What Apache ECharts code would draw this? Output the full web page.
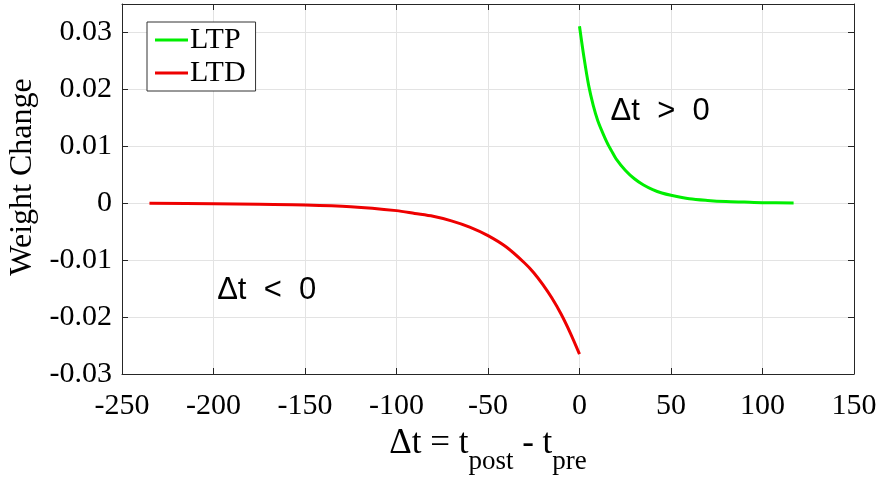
<!DOCTYPE html>
<html>
<head>
<meta charset="utf-8">
<script src="https://cdn.jsdelivr.net/npm/echarts@6/dist/echarts.min.js"></script>
<style>
 html,body{margin:0;padding:0;background:#fff;}
 #main{width:883px;height:478px;}
</style>
</head>
<body>
<div id="main"></div>
<script>
// LTP branch (dt > 0)
var ltpT = [0, 2.5, 5, 7.5, 10, 12.5, 15, 17.5, 20, 25, 30, 35, 40, 45, 50, 60, 70, 80, 90, 100, 117];
var ltpW = [0.0311, 0.0255, 0.0207, 0.0172, 0.0145, 0.0125, 0.0107, 0.0092, 0.0078, 0.0058, 0.0043, 0.0032, 0.0024, 0.0018, 0.0014, 0.0008, 0.0005, 0.0003, 0.0002, 0.0001, 0.00005];
// LTD branch (dt < 0)
var ltdT = [-235, -200, -175, -150, -125, -100, -90, -80, -70, -60, -50, -40, -30, -25, -20, -15, -10, -5, 0];
var ltdW = [0, -0.0001, -0.0002, -0.0003, -0.0006, -0.0013, -0.0018, -0.0023, -0.0031, -0.0042, -0.0057, -0.0077, -0.0105, -0.0122, -0.0143, -0.0167, -0.0195, -0.0228, -0.0265];

var xTicks = [-250, 150, 50];   // min, max, step
var yTicks = [-0.03, 0.035, 0.01];

// text notes, in data coords
var notePos = [[17, 0.0162], [-198, -0.0153]];
var noteText = ['\u0394t  >  0', '\u0394t  <  0'];

function pairs(xs, ys) {
    var out = [];
    for (var i = 0; i < xs.length; i++) out.push([xs[i], ys[i]]);
    return out;
}

var chart = echarts.init(document.getElementById('main'));
var serif = '"Liberation Serif", "Times New Roman", serif';
var sans = '"Liberation Sans", Arial, sans-serif';
var axisCol = '#262626';

function noteLabel() {
    return { show: true, position: 'right', distance: 0, fontFamily: sans, fontSize: 31, color: '#000',
             formatter: function (p) { return p.name; } };
}

var option = {
    animation: false,
    backgroundColor: '#fff',
    grid: { left: 122, right: 29, top: 4, bottom: 104, outerBoundsMode: 'none', containLabel: false },
    legend: {
        orient: 'vertical',
        left: 147,
        top: 22,
        padding: [3, 10, 3, 8],
        itemGap: 3,
        itemWidth: 33,
        itemHeight: 3,
        icon: 'rect',
        borderColor: '#333',
        borderWidth: 1,
        backgroundColor: '#fff',
        textStyle: { fontFamily: serif, fontSize: 30, color: '#000', padding: [0, 0, 0, -3] },
        data: ['LTP', 'LTD']
    },
    xAxis: [{
        type: 'value',
        min: xTicks[0], max: xTicks[1], interval: xTicks[2],
        position: 'bottom',
        axisLine: { show: true, onZero: false, lineStyle: { color: axisCol, width: 1 } },
        axisTick: { show: true, inside: true, length: 6, lineStyle: { color: axisCol } },
        axisLabel: { fontFamily: serif, fontSize: 30, color: '#000', margin: 17 },
        splitLine: { show: true, lineStyle: { color: '#e3e3e3', width: 1 } },
        name: '{a|\u0394t = t}{s|post}{a| - t}{s|pre}',
        nameLocation: 'middle',
        nameGap: 51,
        nameTextStyle: {
            rich: {
                a: { fontFamily: serif, fontSize: 35, color: '#000', verticalAlign: 'top', lineHeight: 36 },
                s: { fontFamily: serif, fontSize: 27, color: '#000', verticalAlign: 'bottom', lineHeight: 50 }
            }
        }
    }, {
        type: 'value',
        min: xTicks[0], max: xTicks[1], interval: xTicks[2],
        position: 'top',
        axisLine: { show: true, onZero: false, lineStyle: { color: axisCol, width: 1 } },
        axisTick: { show: true, inside: true, length: 6, lineStyle: { color: axisCol } },
        axisLabel: { show: false },
        splitLine: { show: false }
    }],
    yAxis: [{
        type: 'value',
        min: yTicks[0], max: yTicks[1], interval: yTicks[2],
        position: 'left',
        axisLine: { show: true, onZero: false, lineStyle: { color: axisCol, width: 1 } },
        axisTick: { show: true, inside: true, length: 6, lineStyle: { color: axisCol } },
        axisLabel: {
            fontFamily: serif, fontSize: 30, color: '#000', margin: 10,
            formatter: function (v) { return v > 0.031 ? '' : String(+v.toFixed(2)); }
        },
        splitLine: { show: true, lineStyle: { color: '#e3e3e3', width: 1 } },
        name: 'Weight Change',
        nameLocation: 'middle',
        nameGap: 78,
        nameTextStyle: { fontFamily: serif, fontSize: 32, color: '#000', padding: [0, 0, 0, 24] }
    }, {
        type: 'value',
        min: yTicks[0], max: yTicks[1], interval: yTicks[2],
        position: 'right',
        axisLine: { show: true, onZero: false, lineStyle: { color: axisCol, width: 1 } },
        axisTick: { show: true, inside: true, length: 6, lineStyle: { color: axisCol } },
        axisLabel: { show: false },
        splitLine: { show: false }
    }],
    series: [{
        name: 'LTP',
        type: 'line',
        data: pairs(ltpT, ltpW),
        smooth: 0.3,
        showSymbol: false,
        itemStyle: { color: '#00ee00' },
        lineStyle: { color: '#00ee00', width: 3 },
        markPoint: {
            symbol: 'circle', symbolSize: 0,
            label: noteLabel(),
            data: [{ name: noteText[0], coord: notePos[0] }]
        }
    }, {
        name: 'LTD',
        type: 'line',
        data: pairs(ltdT, ltdW),
        smooth: 0.3,
        showSymbol: false,
        itemStyle: { color: '#ee0000' },
        lineStyle: { color: '#ee0000', width: 3 },
        markPoint: {
            symbol: 'circle', symbolSize: 0,
            label: noteLabel(),
            data: [{ name: noteText[1], coord: notePos[1] }]
        }
    }]
};
chart.setOption(option);
</script>
</body>
</html>
